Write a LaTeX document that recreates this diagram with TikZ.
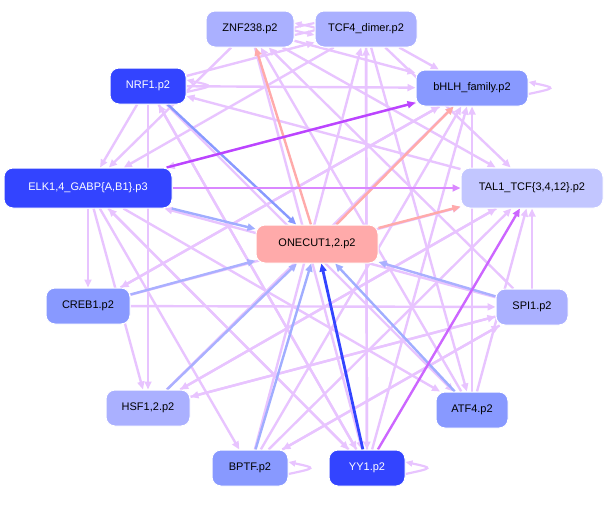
\documentclass[tikz,border=0pt]{standalone}
\usepackage{fontspec}
\setmainfont{Liberation Sans}
\usetikzlibrary{arrows.meta}
\begin{document}
\begin{tikzpicture}[x=1pt,y=-1pt,
 nd/.style={draw=white,line width=1pt,rounded corners=9pt,minimum height=36pt,font=\fontsize{11}{13}\selectfont,text=#1},
 nd/.default=black,
 e/.style={-{Triangle[length=8pt,width=7pt]},line width=2.4pt,draw=lav},
 lp/.style={-{Triangle[length=7pt,width=6pt]},line width=2.2pt,draw=lav}]
\definecolor{lav}{HTML}{E8C4FF}
\definecolor{dk}{HTML}{3344FF}
\definecolor{md}{HTML}{8899FF}
\definecolor{lt}{HTML}{AAB0FF}
\definecolor{vl}{HTML}{C2C6FF}
\definecolor{pk}{HTML}{FFAAAA}
\useasboundingbox (0,0) rectangle (612,504);
\tikzset{
 nZ/.style={nd,fill=lt,minimum width=88pt},
 nT/.style={nd,fill=lt,minimum width=102pt},
 nN/.style={nd=white,fill=dk,minimum width=76pt},
 nB/.style={nd,fill=md,minimum width=112pt},
 nE/.style={nd=white,fill=dk,minimum width=168pt,minimum height=40pt},
 nL/.style={nd,fill=vl,minimum width=142pt,minimum height=40pt},
 nO/.style={nd,fill=pk,minimum width=122pt,minimum height=38pt},
 nC/.style={nd,fill=md,minimum width=84pt},
 nS/.style={nd,fill=lt,minimum width=72pt},
 nH/.style={nd,fill=lt,minimum width=84pt},
 nA/.style={nd,fill=md,minimum width=72pt},
 nP/.style={nd,fill=md,minimum width=76pt},
 nY/.style={nd=white,fill=dk,minimum width=76pt}}
\node[nZ] (znf) at (250,29) {ZNF238.p2};
\node[nT] (tcf) at (366,29) {TCF4\_dimer.p2};
\node[nN] (nrf) at (148,86) {NRF1.p2};
\node[nB] (bhlh) at (472,88) {bHLH\_family.p2};
\node[nE] (elk) at (88,188) {ELK1,4\_GABP\{A,B1\}.p3};
\node[nL] (tal) at (532,188) {TAL1\_TCF\{3,4,12\}.p2};
\node[nO] (one) at (317,244) {ONECUT1,2.p2};
\node[nC] (creb) at (88,306) {CREB1.p2};
\node[nS] (spi) at (532,307) {SPI1.p2};
\node[nH] (hsf) at (148,408) {HSF1,2.p2};
\node[nA] (atf) at (472,410) {ATF4.p2};
\node[nP] (bptf) at (250,468) {BPTF.p2};
\node[nY] (yy) at (367,468) {YY1.p2};
\foreach \a/\b in {znf/bhlh,tcf/bhlh,nrf/bhlh,nrf/tcf,znf/tal,tcf/tal,tcf/atf,znf/elk,tcf/elk,nrf/elk,nrf/yy,nrf/atf,elk/creb,elk/hsf,elk/bptf,elk/yy,elk/atf,creb/tal,creb/bhlh,hsf/bhlh,hsf/tal,bptf/bhlh,bptf/tal,bptf/tcf,yy/bhlh,yy/tcf,yy/nrf,spi/elk,spi/hsf,spi/bptf,spi/znf,tal/hsf,tal/nrf,atf/bhlh,atf/znf,bptf/spi,yy/elk,creb/spi,hsf/spi,nrf/hsf,bhlh/elk,bhlh/creb,tcf/yy,znf/yy,atf/tal,spi/tal}
 \draw[e] (\a) -- (\b);
\draw[e,draw=md] (nrf) -- (one);
\draw[e,draw=md!80] (elk) -- (one);
\draw[e,draw=lt] (creb) -- (one);
\draw[e,draw=lt] (hsf) -- (one);
\draw[e,draw=md!80] (bptf) -- (one);
\draw[e,draw=dk,line width=2.8pt] (yy) -- (one);
\draw[e,draw=md!80] (atf) -- (one);
\draw[e,draw=lt] (spi) -- (one);
\draw[e,draw=pk] (one) -- (znf);
\draw[e,draw=pk] (one) -- (bhlh);
\draw[e,draw=pk] (one) -- (tal);
\draw[e,draw={rgb,255:red,187;green,68;blue,255}] (elk) -- (bhlh);
\draw[e,draw={rgb,255:red,218;green,136;blue,255}] (elk) -- (tal);
\draw[e,draw={rgb,255:red,204;green,102;blue,255}] (yy) -- (tal);
% self loops
\foreach \n in {nrf,bhlh,yy,bptf,znf}{
 \draw[lp] ([yshift=-6pt]\n.east) .. controls +(28,-6) and +(28,6) .. ([yshift=6pt]\n.east);}
\draw[lp] ([yshift=6pt]tcf.west) .. controls +(-28,6) and +(-28,-6) .. ([yshift=-6pt]tcf.west);
% nodes on top
\node[nZ] at (znf) {ZNF238.p2};
\node[nT] at (tcf) {TCF4\_dimer.p2};
\node[nN] at (nrf) {NRF1.p2};
\node[nB] at (bhlh) {bHLH\_family.p2};
\node[nE] at (elk) {ELK1,4\_GABP\{A,B1\}.p3};
\node[nL] at (tal) {TAL1\_TCF\{3,4,12\}.p2};
\node[nO] at (one) {ONECUT1,2.p2};
\node[nC] at (creb) {CREB1.p2};
\node[nS] at (spi) {SPI1.p2};
\node[nH] at (hsf) {HSF1,2.p2};
\node[nA] at (atf) {ATF4.p2};
\node[nP] at (bptf) {BPTF.p2};
\node[nY] at (yy) {YY1.p2};
\end{tikzpicture}
\end{document}
